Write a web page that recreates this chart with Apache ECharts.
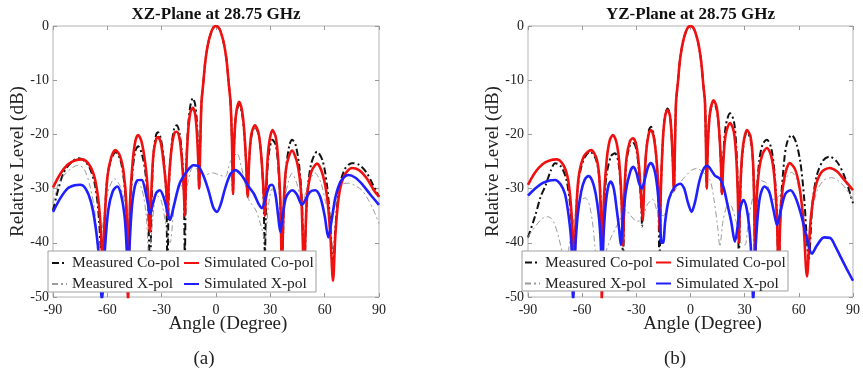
<!DOCTYPE html>
<html>
<head>
<meta charset="utf-8">
<script src="https://cdn.jsdelivr.net/npm/echarts@6/dist/echarts.min.js"></script>
<style>
  html, body { margin: 0; padding: 0; background: #fff; }
  #chart { width: 863px; height: 375px; }
</style>
</head>
<body>
<div id="chart"></div>
<script>
// ---- data: [angle (deg), level (dB)] ----
var angleTicks = [-90, -60, -30, 0, 30, 60, 90];
var levelTicks = [0, -10, -20, -30, -40, -50];

// main beam, same in both planes
var mainLobe = [[-8,-14],[-7,-10.5],[-6,-6.8],[-5,-4.4],[-4,-2.7],[-3,-1.5],[-2,-0.6],[-1,-0.15],[0,0],
  [1,-0.15],[2,-0.6],[3,-1.5],[4,-2.7],[5,-4.4],[6,-6.8],[7,-10.5],[8,-14]];

// XZ plane
var simCoXZLeft = [[-90,-29.8],[-86,-27.3],[-82,-25.6],[-78,-24.8],[-74,-24.6],[-70,-25.6],[-67,-28],[-65,-32],[-63.5,-38],[-62.5,-46],
  [-61.5,-36],[-60,-28],[-58,-24.4],[-55.5,-22.9],[-53,-24],[-51,-27],[-49.5,-33],[-48.6,-50.5],[-47.5,-33],[-46,-25],
  [-44.5,-21.2],[-43,-20.1],[-41,-21.5],[-39,-25.5],[-37.5,-31],[-36.5,-38],[-35.5,-29],[-34.5,-23.5],[-33,-20.8],[-32,-20.5],
  [-30.5,-21.5],[-29,-25],[-27.5,-30],[-26.8,-35],[-26,-28.5],[-24.5,-22.5],[-23,-19.8],[-21.7,-19.5],[-20.3,-20.5],[-19,-24],
  [-17.8,-30],[-17.2,-35],[-16.6,-28],[-15.5,-20],[-14.2,-16],[-12.8,-15.1],[-11.5,-16.3],[-10.5,-20],[-9.8,-25],[-9.3,-30],[-8.7,-22]];
var simCoXZRight = [[8.8,-21],[9.4,-31],[10,-22],[11,-16.5],[12.7,-14],[14.3,-15.5],[15.5,-19],[16.6,-25],[17.5,-31.5],[18.3,-25],
  [19.5,-20],[21.5,-18.3],[23.5,-19.8],[25,-24],[26.2,-30],[27,-35],[27.8,-29],[29,-22.5],[31.2,-19.2],[33,-20.5],
  [34.3,-24.5],[35.5,-32],[36.4,-44],[37.4,-33],[38.8,-26],[42,-23],[45,-25.5],[47,-31],[48.6,-45],[50.2,-32],
  [52.5,-27],[55.8,-25.4],[59,-27.5],[61.5,-32],[63.2,-39],[64.6,-47],[66,-38],[68,-31],[71,-27.5],[75,-26.2],
  [79,-26.6],[83,-28],[87,-30.2],[90,-31.5]];
var mesCoXZLeft = [[-90,-34],[-87,-30],[-84,-27],[-80,-25.2],[-76,-24.4],[-73,-24.8],[-70,-26],[-67,-29],[-65,-34],[-63.5,-42],[-62.5,-47],
  [-61.5,-36],[-60,-28],[-58,-24.8],[-55.5,-23.3],[-53,-24.5],[-51,-28],[-49.5,-34],[-48.6,-46],[-47.5,-34],[-46,-26.5],
  [-44.5,-23],[-43,-22.2],[-41,-23.5],[-39,-27],[-37.5,-33],[-36.5,-47],[-35.5,-32],[-34.5,-23.5],[-33,-20],[-32,-19.6],
  [-30.5,-20.8],[-29,-24],[-27.5,-31],[-26.8,-46],[-26,-30],[-24.5,-22],[-23,-18.8],[-21.7,-18.3],[-20.3,-19.5],[-19,-23],
  [-17.8,-30],[-17.2,-43],[-16.6,-28],[-15.5,-19],[-14.2,-14.8],[-12.8,-13.3],[-11.5,-14.5],[-10.5,-18],[-9.8,-24],[-9.3,-30],[-8.7,-22]];
var mesCoXZRight = [[8.8,-21],[9.4,-31],[10,-22],[11,-16.5],[12.7,-14.5],[14.3,-16],[15.5,-19.5],[16.6,-25],[17.5,-31],[18.3,-25],
  [19.5,-20.5],[21.5,-18.6],[23.5,-20],[25,-24],[26.2,-31],[27,-42],[27.8,-31],[29,-24],[31.2,-21],[33,-22],
  [34.3,-25.5],[35.5,-33],[36.4,-46],[37.4,-34],[38.8,-26],[40.5,-22],[42,-21],[44,-22],[46,-26],[47.5,-33],
  [48.6,-46],[50.2,-32],[52.5,-25.5],[55.8,-23.2],[59,-25],[61.5,-30],[63.2,-37],[64.6,-45],[66,-37],[68,-30],
  [71,-26.5],[75,-25.3],[79,-25.6],[83,-27],[87,-29.5],[90,-31.5]];
var mesXXZ = [[-90,-32.7],[-87,-29],[-84,-27.6],[-80,-26.3],[-76,-25.7],[-73,-26.3],[-70,-29],[-67,-34],[-65,-42],[-63,-38],
  [-60,-31],[-56,-28.2],[-53,-29.5],[-50,-33],[-48.4,-36.5],[-46.5,-31],[-44,-28.7],[-41,-30],[-38.5,-35],[-37,-43],
  [-35,-36],[-33,-31.2],[-30.5,-32],[-28,-36],[-25.4,-40],[-23,-33],[-20,-29],[-17,-31],[-15,-28],[-12.7,-26],
  [-10,-26.5],[-6,-27.5],[-2,-27.1],[2,-27.5],[5,-27.8],[8,-25],[11.6,-23.5],[14,-26],[16,-29],[18,-32],
  [22,-34],[25,-37],[27,-39.5],[29,-33],[31,-30],[33,-32],[36.4,-37.6],[38.5,-31],[42,-27.2],[45,-29.5],
  [47.5,-34],[50,-30],[54.7,-27.1],[58,-29],[61,-33],[64,-35.2],[67,-31],[70,-29.2],[73.3,-29],[77,-29.5],
  [80.6,-30.3],[84,-32],[87,-34],[90,-36.4]];
var simXXZ = [[-90,-34.3],[-86,-31.8],[-82,-30],[-78,-29.4],[-75,-29.3],[-72,-30],[-69,-32.5],[-66.5,-37],[-64.5,-43],[-63,-50.5],
  [-61.5,-42],[-59.5,-34],[-57,-30.5],[-54.5,-29.6],[-52.5,-31],[-50.5,-35],[-49.3,-41],[-48.5,-46],[-47.5,-39],[-46,-32],
  [-43.5,-28.5],[-41,-28.4],[-39,-30.5],[-37.5,-33],[-36.5,-34.7],[-35,-33],[-33,-30.8],[-31,-30.3],[-29,-31.5],[-27,-34],
  [-25.4,-35.8],[-23.5,-33.5],[-20,-29],[-16,-26.8],[-12.5,-25.7],[-10,-25.8],[-7,-27.6],[-4,-30.5],[-1.5,-33.5],[0.5,-34.3],
  [2.5,-33],[5,-30],[8,-27.3],[10.7,-26.6],[13.5,-27.3],[16,-28.5],[18,-29.6],[21,-31],[23.5,-32.8],[25.4,-33.6],
  [27.5,-31.5],[29.5,-29.5],[31,-29.3],[32.8,-31],[34.3,-35],[35.5,-38],[36.8,-35],[38.8,-31.5],[42,-30.3],[44.5,-31],
  [47.5,-33],[49.5,-32],[52,-30.6],[54.7,-30.3],[57.5,-31.5],[60,-35],[62,-39],[64,-35.5],[66,-31.5],[69,-28.6],
  [73,-27.5],[77,-28],[81,-29.3],[85,-31],[90,-33]];

// YZ plane
var simCoYZLeft = [[-90,-29.3],[-86,-27],[-82,-25.5],[-78,-24.8],[-74,-24.6],[-70.5,-25.6],[-68,-28],[-66.5,-32],[-65.3,-38],[-64.5,-46],
  [-63.5,-36],[-62,-28],[-59,-24],[-55,-22.9],[-52,-24.5],[-50.5,-28],[-49.6,-36],[-49.1,-50.5],[-48.2,-34],[-46.5,-25],
  [-44.8,-21.2],[-43,-20.1],[-41,-21.5],[-39.5,-25],[-38.2,-32],[-37.4,-40.5],[-36.6,-31],[-35.5,-24.5],[-33.5,-21.2],[-31.8,-20.7],
  [-30,-22],[-28.5,-26],[-27.3,-32],[-26.5,-35.8],[-25.7,-30],[-24.5,-23],[-23,-19.7],[-21.9,-19.2],[-20.5,-20.3],[-19,-24],
  [-17.8,-30],[-17,-38],[-16.3,-29],[-15.2,-20.5],[-14,-16.5],[-12.7,-15.5],[-11.4,-16.5],[-10.5,-20],[-9.8,-25],[-9.2,-30.3],[-8.6,-22]];
var simCoYZRight = [[8.5,-21],[9,-30],[9.6,-22],[10.8,-16],[12.8,-13.7],[14.5,-15],[15.8,-19],[16.8,-25],[17.4,-31],[18.2,-25],
  [19.5,-20],[21.9,-17.9],[24,-19.5],[25.3,-24],[26.2,-31],[26.8,-40],[27.5,-31],[28.8,-23],[31.3,-19.2],[33.3,-20.5],
  [34.6,-25],[35.3,-33],[35.8,-45],[36.5,-33],[38,-26.5],[40,-23.5],[42.3,-22.5],[44.7,-24],[46.5,-28],[47.8,-35],
  [48.8,-45],[50,-34],[52,-28],[55,-25.3],[58,-26.5],[60.5,-30],[62.5,-36],[64.5,-46.2],[66.5,-36],[69,-30],
  [72.5,-27],[77,-26.2],[81,-26.8],[85,-28.3],[90,-30.3]];
var mesCoYZLeft = [[-90,-39],[-86,-35],[-83,-31.5],[-80.5,-29.6],[-77.5,-26.8],[-75,-25.3],[-72,-25.8],[-69,-28],[-67,-32],[-65.5,-38],[-64.8,-46],
  [-63.5,-36],[-62,-28.5],[-59,-24.5],[-55.6,-23.2],[-52.5,-24.5],[-50.5,-28],[-49.5,-35],[-49,-46],[-48,-34],[-46.5,-27.5],
  [-44,-24],[-41.8,-23.5],[-40,-25],[-39,-28],[-38,-34],[-37.4,-44],[-36.6,-33],[-35.5,-25],[-33.5,-22],[-31.8,-21.6],
  [-30,-22.8],[-28.5,-27],[-27.3,-33],[-26.8,-37],[-26,-31],[-24.5,-23],[-23,-19.2],[-21.9,-18.6],[-20.5,-19.8],[-19,-24],
  [-17.8,-31],[-17.2,-47],[-16.4,-30],[-15.2,-20.5],[-14,-16.2],[-12.7,-15.2],[-11.4,-16.3],[-10.5,-20],[-9.8,-25],[-9.2,-30.3],[-8.6,-22]];
var mesCoYZRight = [[8.5,-21],[9,-30],[9.6,-22],[10.8,-16],[12.8,-14],[14.5,-15.5],[15.8,-19],[16.8,-25],[17.4,-31],[18.2,-24],
  [19.5,-18.5],[21.9,-16.1],[24,-17.5],[25.3,-22],[26.2,-30],[26.8,-44],[27.5,-32],[28.8,-23.5],[31.3,-19.5],[33.3,-21],
  [34.6,-25],[35.3,-33],[35.8,-46],[36.5,-33],[38,-25],[40,-21.8],[42.3,-21],[44.7,-22.5],[46.5,-27],[47.8,-34],
  [48.8,-46],[50,-33],[52,-24.5],[53.5,-21.5],[56,-20.1],[58.5,-21.5],[61,-25.5],[63,-32],[65.5,-43],[67.5,-33],
  [70,-27.5],[73.5,-24.8],[77,-24.1],[81,-25],[85,-27.5],[90,-32.7]];
var mesXYZ = [[-90,-38.9],[-86,-37],[-82,-35.5],[-78.8,-35.2],[-76,-36],[-73,-39],[-70.5,-43],[-69.5,-47],[-67,-40],[-64,-35],
  [-61,-32.5],[-58.4,-31.7],[-56,-33],[-54,-37],[-52,-44],[-50,-48],[-47,-42],[-44,-39],[-41,-37],[-38,-35],
  [-36,-34],[-33,-35],[-30,-36],[-27,-35.8],[-24,-33],[-21,-32],[-18,-34.5],[-15,-35],[-12,-32],[-9.7,-30.9],
  [-6,-29],[-3,-27.8],[0.6,-26.6],[3.5,-26.3],[7,-27],[10.8,-28.4],[13,-32],[15,-37],[16.3,-40.7],[18,-36],
  [21.1,-32.7],[23,-33.5],[26,-37],[28,-40],[30.2,-40.4],[32,-36],[35,-30.9],[38,-28.5],[42,-29],[46,-32],
  [50,-31],[53,-28],[56,-27],[59,-28.5],[62,-34],[64.5,-40.7],[67,-35],[70,-30.5],[74,-28.4],[78.3,-28],
  [82,-28.6],[86,-30],[90,-32.1]];
var simXYZ = [[-90,-31.3],[-86,-30],[-82,-29],[-78,-28.5],[-75,-28.4],[-72,-29.2],[-69.5,-31],[-67.5,-35],[-66,-40],[-65,-50.5],
  [-64,-42],[-62.5,-35],[-60.5,-30.5],[-58.5,-28.3],[-56.5,-27.7],[-54.5,-28.5],[-52.5,-31],[-50.8,-35],[-49.7,-40],[-49,-47],
  [-48.2,-39],[-47,-33],[-45.5,-29.5],[-44.2,-28.7],[-42.5,-30],[-40.8,-34],[-39.5,-37.5],[-38.6,-40.4],[-37.5,-36],[-35.8,-30.5],
  [-33.5,-27],[-31.7,-26],[-30,-27],[-28.5,-29],[-27,-30],[-25.5,-28.5],[-23.5,-26],[-21.9,-25.3],[-20,-26.5],[-18.5,-29.5],
  [-17,-35],[-16,-40],[-15.2,-40],[-14,-36],[-12,-32],[-9,-29.8],[-5.8,-29.1],[-3.5,-30],[-1.5,-32.5],[0.6,-34.3],
  [2.5,-32.5],[5,-28.5],[7.5,-26.2],[9.4,-25.8],[11.5,-26.6],[13.5,-27.6],[16.3,-28.2],[18.5,-30],[20.5,-33],[22.5,-36],
  [24.6,-39.8],[26.5,-36],[28,-33],[29.4,-32.1],[31,-33.5],[32.5,-37],[34,-44],[34.7,-50.5],[35.7,-43],[37,-36],
  [38.5,-31.5],[40.9,-29.6],[43.5,-30.5],[46,-34],[47.9,-36.7],[50,-34],[52.5,-31],[55.3,-30.3],[58,-31.5],[61,-34.5],
  [64,-38.5],[67.3,-42],[70,-40.5],[74,-39],[77.4,-39.1],[80,-40.5],[83,-42.5],[86.5,-44.8],[90,-47]];

var simCoXZ = simCoXZLeft.concat(mainLobe, simCoXZRight);
var mesCoXZ = mesCoXZLeft.concat(mainLobe, mesCoXZRight);
var simCoYZ = simCoYZLeft.concat(mainLobe, simCoYZRight);
var mesCoYZ = mesCoYZLeft.concat(mainLobe, mesCoYZRight);

var planes = [
  { title: 'XZ-Plane at 28.75 GHz', tag: '(a)', mesCo: mesCoXZ, mesX: mesXXZ, simCo: simCoXZ, simX: simXXZ },
  { title: 'YZ-Plane at 28.75 GHz', tag: '(b)', mesCo: mesCoYZ, mesX: mesXYZ, simCo: simCoYZ, simX: simXYZ }
];

// ---- layout ----
var SERIF = '"Liberation Serif", "Times New Roman", serif';
var boxes = [ { left: 53, width: 326 }, { left: 528, width: 325 } ];
var legendBoxes = [ { x: 48, y: 251, w: 268, h: 41, col1: 51, col2: 183 }, { x: 522, y: 251, w: 266, h: 40, col1: 524, col2: 655 } ];

var chart = echarts.init(document.getElementById('chart'));

var grid = [], xAxis = [], yAxis = [], series = [], legend = [], graphic = [];
var tickStyle = { inside: true, length: 4, lineStyle: { color: '#999' } };

planes.forEach(function (p, i) {
  var b = boxes[i];
  var cx = b.left + b.width / 2;
  grid.push({ left: b.left, top: 26, width: b.width, height: 271, show: true,
    borderColor: '#b3b3b3', borderWidth: 1, backgroundColor: '#fff' });

  xAxis.push({
    gridIndex: i, type: 'value', position: 'bottom', min: angleTicks[0], max: angleTicks[angleTicks.length - 1], interval: 30,
    axisLine: { show: false, onZero: false },
    axisTick: tickStyle,
    axisLabel: { margin: 6, color: '#222', fontFamily: SERIF, fontSize: 14 },
    splitLine: { show: false },
    name: 'Angle (Degree)', nameLocation: 'middle', nameGap: 18, nameMoveOverlap: false,
    nameTextStyle: { color: '#222', fontFamily: SERIF, fontSize: 19, padding: [0, 0, 0, 24] }
  });
  xAxis.push({
    gridIndex: i, type: 'value', position: 'top', min: -90, max: 90, interval: 30,
    axisLine: { show: false, onZero: false }, axisLabel: { show: false }, splitLine: { show: false },
    axisTick: tickStyle
  });
  yAxis.push({
    gridIndex: i, type: 'value', position: 'left', min: levelTicks[levelTicks.length - 1], max: levelTicks[0], interval: 10,
    axisLine: { show: false, onZero: false },
    axisTick: Object.assign({ show: true }, tickStyle),
    axisLabel: { margin: 4, color: '#222', fontFamily: SERIF, fontSize: 14 },
    splitLine: { show: false },
    name: 'Relative Level (dB)', nameLocation: 'middle', nameGap: 25, nameRotate: 90, nameMoveOverlap: false,
    nameTextStyle: { color: '#222', fontFamily: SERIF, fontSize: 19 }
  });
  yAxis.push({
    gridIndex: i, type: 'value', position: 'right', min: -50, max: 0, interval: 10,
    axisLine: { show: false, onZero: false }, axisLabel: { show: false }, splitLine: { show: false },
    axisTick: Object.assign({ show: true }, tickStyle)
  });

  var common = { type: 'line', xAxisIndex: i * 2, yAxisIndex: i * 2, showSymbol: false, symbol: 'none',
    smooth: 0.3, silent: true, animation: false, z: 2 };
  series.push(Object.assign({}, common, { name: 'Measured Co-pol', data: p.mesCo,
    lineStyle: { color: '#111', width: 2, type: [7, 3, 2, 3] }, itemStyle: { color: '#111' } }));
  series.push(Object.assign({}, common, { name: 'Measured X-pol', data: p.mesX,
    lineStyle: { color: '#9a9a9a', width: 1, type: [6, 3, 2, 3] }, itemStyle: { color: '#9a9a9a' } }));
  series.push(Object.assign({}, common, { name: 'Simulated Co-pol', data: p.simCo,
    lineStyle: { color: '#f01010', width: 2.6 }, itemStyle: { color: '#f01010' } }));
  series.push(Object.assign({}, common, { name: 'Simulated X-pol', data: p.simX,
    lineStyle: { color: '#1f1fff', width: 2.6 }, itemStyle: { color: '#1f1fff' } }));

  var lb = legendBoxes[i];
  var legendText = { fontFamily: SERIF, fontSize: 15.5, color: '#222' };
  var legendTop = lb.y + (lb.h - 33) / 2;
  [[lb.col1, ['Measured Co-pol', 'Measured X-pol']], [lb.col2, ['Simulated Co-pol', 'Simulated X-pol']]].forEach(function (c) {
    legend.push({ orient: 'vertical', left: c[0], top: legendTop, padding: 0, itemGap: 5,
      itemWidth: 15, itemHeight: 14, z: 5, selectedMode: false, textStyle: legendText,
      itemStyle: { opacity: 0 }, data: c[1] });
  });

  graphic.push({ type: 'rect', z: 3, shape: { x: lb.x, y: lb.y, width: lb.w, height: lb.h },
    style: { fill: '#fff', stroke: '#a0a0a0', lineWidth: 1 } });
  graphic.push({ type: 'text', z: 5, x: cx, y: 15,
    style: { text: p.title, align: 'center', verticalAlign: 'middle', textAlign: 'center', textVerticalAlign: 'middle',
      font: 'bold 17px ' + SERIF, fill: '#111' } });
  graphic.push({ type: 'text', z: 5, x: [204, 675][i], y: 359,
    style: { text: p.tag, align: 'center', verticalAlign: 'middle', textAlign: 'center', textVerticalAlign: 'middle',
      font: '19px ' + SERIF, fill: '#222' } });
});

chart.setOption({
  backgroundColor: '#fff',
  animation: false,
  grid: grid,
  xAxis: xAxis,
  yAxis: yAxis,
  legend: legend,
  graphic: graphic,
  series: series
});
</script>
</body>
</html>
